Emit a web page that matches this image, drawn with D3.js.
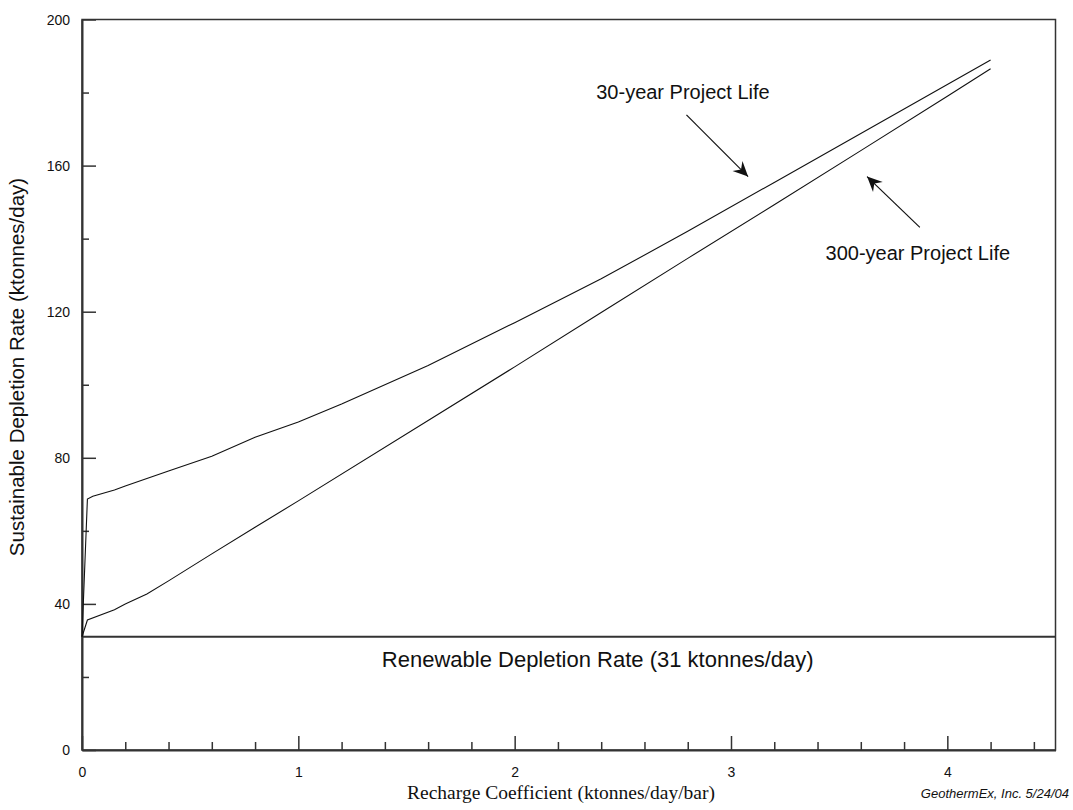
<!DOCTYPE html>
<html>
<head>
<meta charset="utf-8">
<script src="https://cdn.jsdelivr.net/npm/d3@7"></script>
<style>
  body { margin: 0; background: #fff; }
  text { font-family: "Liberation Sans", Arial, sans-serif; fill: #111; }
</style>
</head>
<body>
<svg id="chart"></svg>
<script>
// recharge coefficient (ktonnes/day/bar)
const rechargeX = [0, 0.025, 0.05, 0.15, 0.2, 0.4, 0.6, 0.8, 1.0, 1.2, 1.6, 2.0, 2.4, 2.8, 3.2, 3.6, 4.0, 4.2];
// sustainable depletion rate, 30-year project life
const life30 = [31, 68.7, 69.5, 71.2, 72.3, 76.4, 80.4, 85.6, 89.8, 94.7, 105.3, 117.0, 129.0, 142.0, 155.4, 168.8, 182.2, 188.9];

const rechargeX300 = [0, 0.025, 0.15, 0.2, 0.3, 0.4, 0.6, 0.8, 1.0, 1.6, 2.0, 2.4, 2.8, 3.2, 3.6, 4.0, 4.2];
// sustainable depletion rate, 300-year project life
const life300 = [31, 35.6, 38.4, 40.0, 42.7, 46.3, 53.7, 61.0, 68.2, 90.2, 104.9, 119.8, 134.6, 149.3, 164.1, 179.0, 186.5];

const renewableRate = 31;

const xTicks = [0, 0.2, 0.4, 0.6, 0.8, 1, 1.2, 1.4, 1.6, 1.8, 2, 2.2, 2.4, 2.6, 2.8, 3, 3.2, 3.4, 3.6, 3.8, 4, 4.2, 4.4];
const xLabels = [0, 1, 2, 3, 4];
const yTicks = [0, 20, 40, 60, 80, 100, 120, 140, 160, 180, 200];
const yLabels = [0, 40, 80, 120, 160, 200];

const W = 1073, H = 810;
const margin = { top: 19.5, right: 17.5, bottom: 60, left: 82 };

const svg = d3.select("#chart").attr("width", W).attr("height", H);

const x = d3.scaleLinear().domain([0, 4.5]).range([margin.left, W - margin.right]);
const y = d3.scaleLinear().domain([0, 200]).range([H - margin.bottom, margin.top]);

// frame
svg.append("rect")
    .attr("x", x(0)).attr("y", y(200))
    .attr("width", x(4.5) - x(0)).attr("height", y(0) - y(200))
    .attr("fill", "none").attr("stroke", "#333").attr("stroke-width", 1.5);

// x axis, ticks pointing in
const xAxis = svg.append("g").attr("transform", "translate(0," + y(0) + ")")
    .call(d3.axisBottom(x).tickValues(xTicks)
        .tickSize(0).tickPadding(0).tickFormat(""));
xAxis.select(".domain").attr("stroke", "#333").attr("stroke-width", 2);
xAxis.selectAll(".tick line")
    .attr("y2", d => xLabels.includes(d) ? -14 : -8)
    .attr("stroke", "#333").attr("stroke-width", 1.5);
xAxis.selectAll(".tick").filter(d => xLabels.includes(d)).append("text")
    .attr("y", 27).attr("text-anchor", "middle")
    .style("font-size", "14px")
    .text(d => d);

// y axis
const yAxis = svg.append("g").attr("transform", "translate(" + x(0) + ",0)")
    .call(d3.axisLeft(y).tickValues(yTicks)
        .tickSize(0).tickPadding(0).tickFormat(""));
yAxis.select(".domain").attr("stroke", "#333").attr("stroke-width", 2);
yAxis.selectAll(".tick line")
    .attr("x2", d => yLabels.includes(d) ? 14 : 7)
    .attr("stroke", "#333").attr("stroke-width", 1.5);
yAxis.selectAll(".tick").filter(d => yLabels.includes(d)).append("text")
    .attr("x", -12).attr("dy", "0.35em").attr("text-anchor", "end")
    .style("font-size", "14px")
    .text(d => d);

// renewable depletion rate
svg.append("line")
    .attr("x1", x(0)).attr("x2", x(4.5))
    .attr("y1", y(renewableRate)).attr("y2", y(renewableRate))
    .attr("stroke", "#333").attr("stroke-width", 2);

// curves
const line = d3.line().x(d => x(d[0])).y(d => y(d[1]));
svg.append("path")
    .datum(d3.zip(rechargeX, life30))
    .attr("d", line).attr("fill", "none").attr("stroke", "#111").attr("stroke-width", 1.1);
svg.append("path")
    .datum(d3.zip(rechargeX300, life300))
    .attr("d", line).attr("fill", "none").attr("stroke", "#111").attr("stroke-width", 1.1);

// arrows
svg.append("defs").append("marker")
    .attr("id", "head").attr("viewBox", "-16 -8 18 16")
    .attr("markerWidth", 18).attr("markerHeight", 16)
    .attr("markerUnits", "userSpaceOnUse")
    .attr("refX", 0).attr("refY", 0).attr("orient", "auto")
  .append("path")
    .attr("d", "M0,0 L-15,-7 L-10,0 L-15,7 Z").attr("fill", "#111");

const arrows = [
    { from: [2.794, 173.9], to: [3.079, 157.0] },
    { from: [3.873, 143.1], to: [3.629, 157.0] }
];
svg.selectAll(".arrow").data(arrows).enter().append("line")
    .attr("class", "arrow")
    .attr("x1", d => x(d.from[0])).attr("y1", d => y(d.from[1]))
    .attr("x2", d => x(d.to[0])).attr("y2", d => y(d.to[1]))
    .attr("stroke", "#111").attr("stroke-width", 1.2)
    .attr("marker-end", "url(#head)");

// annotations
const notes = [
    { text: "30-year Project Life", at: [2.377, 178.3], size: 20 },
    { text: "300-year Project Life", at: [3.437, 134.2], size: 20 },
    { text: "Renewable Depletion Rate (31 ktonnes/day)", at: [1.386, 22.8], size: 22 }
];
svg.selectAll(".note").data(notes).enter().append("text")
    .attr("class", "note")
    .attr("x", d => x(d.at[0])).attr("y", d => y(d.at[1]))
    .style("font-size", d => d.size + "px")
    .text(d => d.text);

// axis titles
svg.append("text")
    .attr("transform", "translate(24," + 367 + ") rotate(-90)")
    .attr("text-anchor", "middle")
    .style("font-size", "20.5px")
    .text("Sustainable Depletion Rate (ktonnes/day)");

svg.append("text")
    .attr("x", 561).attr("y", 799)
    .attr("text-anchor", "middle")
    .style("font-family", "'Liberation Serif', 'Times New Roman', serif")
    .style("font-size", "19.5px")
    .text("Recharge Coefficient (ktonnes/day/bar)");

svg.append("text")
    .attr("x", 1069).attr("y", 798)
    .attr("text-anchor", "end")
    .style("font-size", "13px").style("font-style", "italic")
    .text("GeothermEx, Inc. 5/24/04");
</script>
</body>
</html>
